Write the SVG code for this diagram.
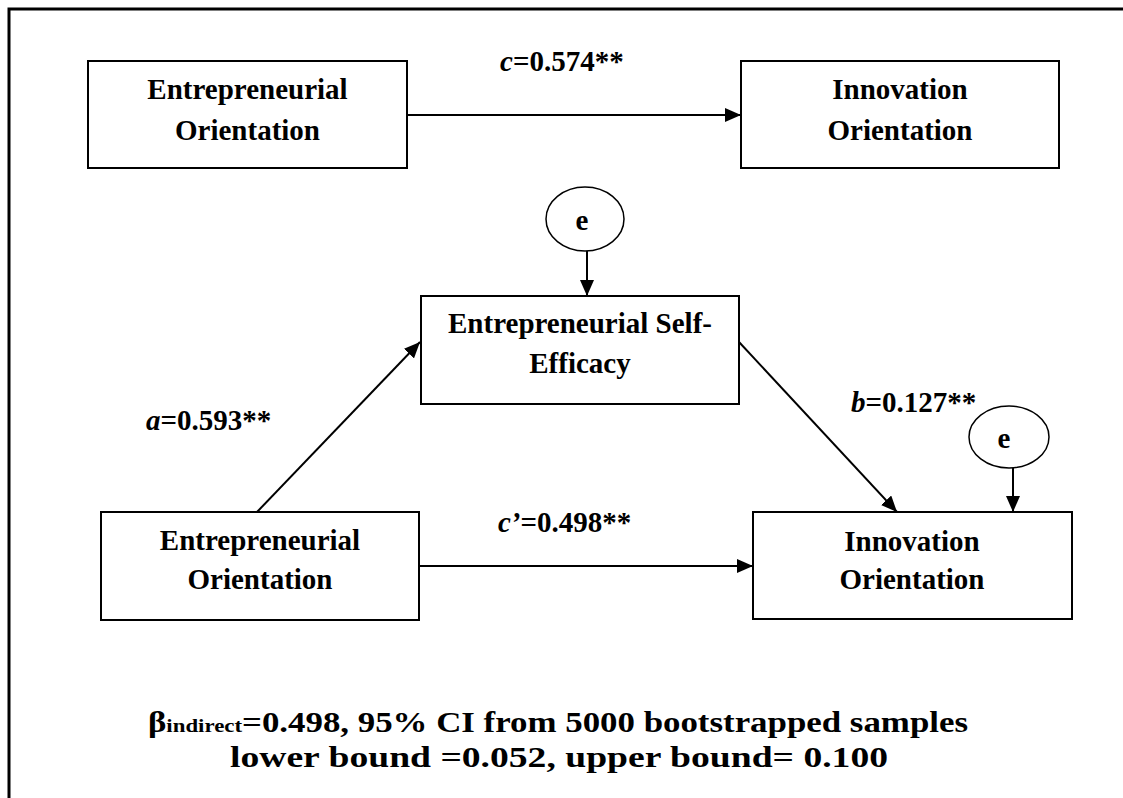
<svg xmlns="http://www.w3.org/2000/svg" width="1123" height="798" viewBox="0 0 1123 798">
<style>
.box{fill:#fff;stroke:#000;stroke-width:2}
.ell{fill:#fff;stroke:#000;stroke-width:1.5}
.t{font-family:'Times New Roman','Liberation Serif',Tinos,Times,serif;font-weight:700;font-size:29px;fill:#000;text-anchor:middle}
.lbl{font-family:'Times New Roman','Liberation Serif',Tinos,Times,serif;font-weight:700;font-size:29px;fill:#000}
.it{font-style:italic}
.edge{stroke:#000;stroke-width:2;fill:none;marker-end:url(#ah)}
.frame{stroke:#000;stroke-width:3;fill:none}
</style>
<defs>
<marker id="ah" markerUnits="userSpaceOnUse" markerWidth="16" markerHeight="14" refX="16" refY="7" orient="auto">
<path d="M0,0 L16,7 L0,14 Z" fill="#000"/>
</marker>
</defs>
<rect width="1123" height="798" fill="#fff"/>
<path class="frame" d="M9,798 L9,9 L1123,9"/>

<g id="connectors">
<line class="edge" x1="407" y1="115" x2="741" y2="115"/>
<line class="edge" x1="587" y1="251" x2="587" y2="296"/>
<line class="edge" x1="257" y1="512" x2="420" y2="342"/>
<line class="edge" x1="739" y1="342" x2="897" y2="512"/>
<line class="edge" x1="1013" y1="468" x2="1013" y2="512"/>
<line class="edge" x1="419" y1="566" x2="753" y2="566"/>
</g>

<g id="node-eo-top">
<rect class="box" x="88" y="61" width="319" height="107"/>
<text class="t" x="247.5" y="99">Entrepreneurial</text>
<text class="t" x="247.5" y="140">Orientation</text>
</g>
<g id="node-io-top">
<rect class="box" x="741" y="61" width="318" height="107"/>
<text class="t" x="900" y="99">Innovation</text>
<text class="t" x="900" y="140">Orientation</text>
</g>
<g id="node-e1">
<ellipse class="ell" cx="585" cy="219" rx="39" ry="32"/>
<text class="t" x="582" y="230">e</text>
</g>
<g id="node-ese">
<rect class="box" x="421" y="296" width="318" height="108"/>
<text class="t" x="580" y="333">Entrepreneurial Self-</text>
<text class="t" x="580" y="373">Efficacy</text>
</g>
<g id="node-e2">
<ellipse class="ell" cx="1009" cy="437" rx="40" ry="31"/>
<text class="t" x="1004" y="448">e</text>
</g>
<g id="node-eo-bottom">
<rect class="box" x="101" y="512" width="318" height="108"/>
<text class="t" x="260" y="550">Entrepreneurial</text>
<text class="t" x="260" y="589">Orientation</text>
</g>
<g id="node-io-bottom">
<rect class="box" x="753" y="512" width="319" height="107"/>
<text class="t" x="912" y="551">Innovation</text>
<text class="t" x="912" y="589">Orientation</text>
</g>

<g id="labels">
<text class="lbl" x="500" y="71"><tspan class="it">c</tspan>=0.574**</text>
<text class="lbl" x="146" y="430"><tspan class="it">a</tspan>=0.593**</text>
<text class="lbl" x="851" y="412"><tspan class="it">b</tspan>=0.127**</text>
<text class="lbl" x="498" y="532"><tspan class="it">c’</tspan>=0.498**</text>
<text class="t" x="558" y="732" textLength="820" lengthAdjust="spacingAndGlyphs">β<tspan font-size="19px">indirect</tspan>=0.498, 95% CI from 5000 bootstrapped samples</text>
<text class="t" x="559" y="767" textLength="658" lengthAdjust="spacingAndGlyphs">lower bound =0.052, upper bound= 0.100</text>
</g>
</svg>
